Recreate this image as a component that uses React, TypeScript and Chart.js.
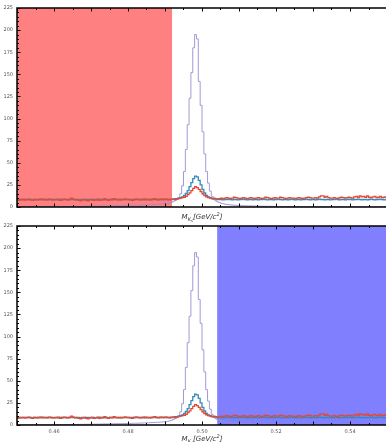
import React, { useEffect, useRef } from "react";
import { Chart, registerables } from "chart.js";

Chart.register(...registerables);

// Histogram binning (0.45 – 0.55 GeV/c², 200 bins)
const BIN_START = 0.45;
const BIN_WIDTH = 0.0005;
const X_MIN = 0.45;
const X_MAX = 0.55;
const Y_MIN = 0;
const Y_MAX = 225;
const X_TICKS = [0.46, 0.48, 0.5, 0.52, 0.54];
const Y_TICKS = [0, 25, 50, 75, 100, 125, 150, 175, 200, 225];
const X_TITLE = "M_Ks[GeV/c^2]";

const TOP_BAND = [0.45, 0.4919];
const BOTTOM_BAND = [0.5041, 0.55];

const RED_COUNTS = [
  7.5, 8.5, 8.0, 8.5, 8.0, 8.5, 8.5, 8.0, 7.5, 8.5,
  8.0, 8.5, 9.0, 8.0, 8.5, 8.0, 8.5, 9.0, 8.5, 8.0,
  8.0, 8.5, 8.0, 7.5, 8.5, 9.0, 8.5, 8.0, 8.5, 10.0,
  9.0, 8.5, 8.0, 7.5, 7.0, 8.0, 8.5, 7.5, 7.0, 8.0,
  8.5, 7.5, 8.0, 8.5, 7.5, 8.0, 8.5, 9.5, 8.0, 7.5,
  8.5, 8.0, 9.5, 8.5, 8.0, 8.5, 8.0, 8.5, 9.0, 8.5,
  8.5, 8.0, 7.5, 8.5, 9.0, 8.5, 8.0, 8.5, 9.0, 8.0,
  8.5, 8.0, 8.5, 9.0, 9.5, 8.5, 8.0, 8.5, 9.0, 8.5,
  9.0, 8.5, 8.0, 8.5, 9.0, 8.5, 9.0, 9.5, 10.0, 10.5,
  11, 12, 14, 16, 18.5, 21, 23, 22, 20, 17.5,
  15, 13, 11.5, 10.5, 10, 9.5, 10, 9.5, 9, 9.5,
  10, 9.5, 10, 10.5, 10, 9.5, 10, 11, 10.5, 10,
  9.5, 10, 10.5, 10, 9.5, 10, 10.5, 10, 9.5, 10,
  10.5, 10, 9.5, 10, 11, 10.5, 10, 9.5, 10, 10.5,
  10, 10, 11, 10.5, 10, 9.5, 10, 10.5, 10, 10,
  9.5, 10, 10.5, 10, 9.5, 10, 10.5, 11, 10.5, 10,
  10, 10.5, 10, 11.5, 12.5, 12.5, 11, 12, 10.5, 10,
  10, 10.5, 10, 9.5, 10.5, 11, 10.5, 10, 10.5, 11,
  10.5, 10, 11.5, 12, 11, 12.5, 11.5, 12, 11, 12.5,
  11, 10.5, 11.5, 12, 10.5, 11, 12, 10.5, 11, 11.5,
];

const BLUE_COUNTS = [
  8.5, 8.0, 8.5, 8.5, 8.0, 8.5, 9.0, 8.5, 8.0, 8.5,
  8.5, 8.0, 8.5, 9.0, 8.5, 8.5, 8.0, 8.5, 8.5, 8.0,
  8.5, 8.5, 9.0, 8.5, 8.0, 8.5, 8.5, 8.0, 8.5, 9.0,
  8.5, 8.0, 8.5, 8.5, 8.0, 8.5, 8.0, 8.5, 8.5, 8.0,
  8.5, 8.5, 8.0, 8.5, 9.0, 8.5, 8.0, 8.5, 8.5, 8.0,
  8.5, 8.5, 9.0, 8.5, 8.5, 8.0, 8.5, 8.5, 9.0, 8.5,
  8.5, 8.0, 8.5, 8.5, 9.0, 8.5, 8.5, 8.0, 8.5, 9.0,
  8.5, 8.5, 8.0, 8.5, 9.0, 8.5, 8.5, 9.0, 8.5, 8.5,
  9.0, 8.5, 8.5, 9.0, 9.0, 9.5, 9.5, 10.0, 10.5, 11.5,
  13, 15.5, 18.5, 23, 27.5, 32, 35, 34, 30, 25,
  20, 16, 13, 11.5, 10.5, 9.5, 9.0, 9.0, 8.5, 8.5,
  8.5, 8.0, 8.5, 8.5, 9.0, 8.5, 8.0, 8.5, 8.5, 8.0,
  8.5, 8.5, 9.0, 8.5, 8.0, 8.5, 8.5, 8.0, 8.5, 8.5,
  8.0, 8.5, 8.5, 9.0, 8.5, 8.0, 8.5, 8.5, 8.0, 8.5,
  8.5, 9.0, 8.5, 8.0, 8.5, 8.5, 8.0, 8.5, 9.0, 8.5,
  8.0, 8.5, 8.5, 8.0, 8.5, 8.5, 9.0, 8.5, 8.0, 8.5,
  8.5, 8.0, 8.5, 9.0, 8.5, 8.5, 8.0, 8.5, 8.5, 8.0,
  8.5, 8.5, 9.0, 8.5, 8.0, 8.5, 8.5, 8.0, 8.5, 9.0,
  8.5, 8.0, 8.5, 8.5, 9.0, 8.5, 8.0, 8.5, 8.5, 8.0,
  8.5, 9.0, 8.5, 8.0, 8.5, 8.5, 9.0, 8.5, 8.0, 8.5,
];

const PURPLE_COUNTS = [
  0.1, 0.1, 0.1, 0.2, 0.1, 0.2, 0.2, 0.2, 0.2, 0.3,
  0.2, 0.3, 0.3, 0.3, 0.3, 0.4, 0.3, 0.4, 0.4, 0.4,
  0.4, 0.5, 0.4, 0.5, 0.5, 0.5, 0.6, 0.5, 0.6, 0.6,
  0.6, 0.7, 0.6, 0.7, 0.7, 0.7, 0.8, 0.8, 0.8, 0.9,
  0.9, 0.9, 1.0, 1.0, 1.0, 1.1, 1.1, 1.2, 1.2, 1.2,
  1.3, 1.3, 1.4, 1.4, 1.5, 1.5, 1.6, 1.6, 1.7, 1.7,
  1.8, 1.8, 1.9, 2.0, 2.0, 2.1, 2.2, 2.2, 2.3, 2.4,
  2.5, 2.6, 2.7, 2.8, 2.9, 3.0, 3.1, 3.3, 3.4, 3.6,
  3.8, 4.1, 4.6, 5.3, 6.2, 7.3, 8.3, 10.5, 15, 24,
  40, 65, 93, 123, 152, 180, 195, 190, 142, 115,
  85, 60, 40, 27, 18, 12, 9.0, 7.0, 5.8, 4.9,
  4.2, 3.7, 3.3, 2.9, 2.6, 2.4, 2.2, 2.0, 1.9, 1.8,
  1.7, 1.6, 1.5, 1.4, 1.3, 1.3, 1.2, 1.1, 1.1, 1.0,
  1.0, 0.9, 0.9, 0.9, 0.8, 0.8, 0.8, 0.7, 0.7, 0.7,
  0.6, 0.6, 0.6, 0.6, 0.5, 0.5, 0.5, 0.5, 0.5, 0.4,
  0.4, 0.4, 0.4, 0.4, 0.4, 0.3, 0.3, 0.3, 0.3, 0.3,
  0.3, 0.3, 0.3, 0.2, 0.2, 0.2, 0.2, 0.2, 0.2, 0.2,
  0.2, 0.2, 0.2, 0.2, 0.1, 0.2, 0.1, 0.1, 0.1, 0.1,
  0.1, 0.1, 0.1, 0.1, 0.1, 0.1, 0.1, 0.1, 0.1, 0.1,
  0.1, 0.1, 0.1, 0.1, 0.1, 0.1, 0.1, 0.1, 0.1, 0.1,
];

const RED = "#E24A33";
const BLUE = "#348ABD";
const PURPLE = "rgba(152,142,213,0.9)";
const RED_BAND_COLOR = "rgb(255,128,128)";
const BLUE_BAND_COLOR = "rgb(128,128,255)";
const FONT = "DejaVu Sans";

function toSteps(counts: number[]) {
  const pts = counts.map((v, i) => ({ x: BIN_START + i * BIN_WIDTH, y: v }));
  pts.push({ x: BIN_START + counts.length * BIN_WIDTH, y: counts[counts.length - 1] });
  return pts;
}

function makeConfig(showXLabels: boolean, band: number[], bandColor: string, xAxisHeight: number): any {
  const bandPlugin = {
    id: "band",
    beforeDatasetsDraw(chart: any) {
      const { ctx, chartArea, scales } = chart;
      const x0 = Math.max(chartArea.left, scales.x.getPixelForValue(band[0]));
      const x1 = Math.min(chartArea.right, scales.x.getPixelForValue(band[1]));
      ctx.save();
      ctx.fillStyle = bandColor;
      ctx.fillRect(x0, chartArea.top, x1 - x0, chartArea.bottom - chartArea.top);
      ctx.restore();
    },
  };
  const framePlugin = {
    id: "frame",
    afterDraw(chart: any) {
      const { ctx, chartArea, scales } = chart;
      const { left, right, top, bottom } = chartArea;
      ctx.save();
      ctx.strokeStyle = "#000";
      ctx.lineWidth = 1;
      for (let v = Y_MIN; v <= Y_MAX + 1e-9; v += 5) {
        const y = Math.round(scales.y.getPixelForValue(v)) + 0.5;
        const len = v % 25 === 0 ? 3.5 : 2;
        ctx.beginPath();
        ctx.moveTo(left, y);
        ctx.lineTo(left + len, y);
        ctx.stroke();
      }
      for (let k = 0; k <= 20; k++) {
        const v = X_MIN + k * 0.005;
        const x = Math.round(scales.x.getPixelForValue(v)) + 0.5;
        const major = k % 2 === 0;
        const len = major ? 3.5 : 2;
        ctx.beginPath();
        ctx.moveTo(x, bottom);
        ctx.lineTo(x, bottom - len);
        ctx.moveTo(x, top);
        ctx.lineTo(x, top + len);
        ctx.stroke();
      }
      ctx.lineWidth = 1.5;
      ctx.beginPath();
      ctx.moveTo(right + 5, top);
      ctx.lineTo(left, top);
      ctx.lineTo(left, bottom);
      ctx.lineTo(right + 5, bottom);
      ctx.stroke();
      ctx.restore();
    },
  };

  return {
    type: "line",
    data: {
      datasets: [
        { label: "red", data: toSteps(RED_COUNTS), borderColor: RED, borderWidth: 1.3, stepped: "before", pointRadius: 0, fill: false },
        { label: "blue", data: toSteps(BLUE_COUNTS), borderColor: BLUE, borderWidth: 1.3, stepped: "before", pointRadius: 0, fill: false },
        { label: "purple", data: toSteps(PURPLE_COUNTS), borderColor: PURPLE, borderWidth: 1, stepped: "before", pointRadius: 0, fill: false },
      ],
    },
    options: {
      responsive: false,
      animation: false,
      devicePixelRatio: 1,
      events: [],
      layout: { padding: { left: 0, right: 3, top: 8, bottom: 0 } },
      plugins: { legend: { display: false }, tooltip: { enabled: false } },
      scales: {
        x: {
          type: "linear",
          min: X_MIN,
          max: X_MAX,
          grid: { display: false, drawTicks: false },
          border: { display: false },
          afterBuildTicks: (s: any) => { s.ticks = X_TICKS.map((v) => ({ value: v })); },
          afterFit: (s: any) => { s.height = xAxisHeight; },
          ticks: {
            display: showXLabels,
            padding: 4,
            maxRotation: 0,
            autoSkip: false,
            color: "#555",
            font: { family: FONT, size: 5 },
            callback: (v: any) => Number(v).toFixed(2),
          },
        },
        y: {
          type: "linear",
          min: Y_MIN,
          max: Y_MAX,
          grid: { display: false, drawTicks: false },
          border: { display: false },
          afterBuildTicks: (s: any) => { s.ticks = Y_TICKS.map((v) => ({ value: v })); },
          afterFit: (s: any) => { s.width = 17; },
          ticks: {
            padding: 4,
            color: "#555",
            font: { family: FONT, size: 5 },
            callback: (v: any) => String(v),
          },
        },
      },
    },
    plugins: [bandPlugin, framePlugin],
  };
}

const titleStyle: React.CSSProperties = {
  position: "absolute",
  left: 17,
  width: 370,
  textAlign: "center",
  fontFamily: FONT,
  fontSize: 7,
  fontStyle: "italic",
  color: "#333",
  lineHeight: "10px",
  whiteSpace: "nowrap",
};

function AxisTitle({ top }: { top: number }) {
  return (
    <div style={{ ...titleStyle, top }} aria-label={X_TITLE}>
      M<span style={{ fontSize: 5, verticalAlign: "-1.5px" }}>K<span style={{ fontSize: 4, verticalAlign: "-1px" }}>s</span></span>[GeV/c<span style={{ fontSize: 5, verticalAlign: "3px" }}>2</span>]
    </div>
  );
}

export default function App() {
  const topRef = useRef<HTMLCanvasElement>(null);
  const botRef = useRef<HTMLCanvasElement>(null);
  useEffect(() => {
    document.body.style.margin = "0";
    const c1 = new Chart(topRef.current as HTMLCanvasElement, makeConfig(false, TOP_BAND, RED_BAND_COLOR, 11));
    const c2 = new Chart(botRef.current as HTMLCanvasElement, makeConfig(true, BOTTOM_BAND, BLUE_BAND_COLOR, 17));
    return () => {
      c1.destroy();
      c2.destroy();
    };
  }, []);
  return (
    <div style={{ position: "relative", width: 386, height: 442, overflow: "hidden", background: "#fff" }}>
      <canvas ref={topRef} width={390} height={218} style={{ position: "absolute", left: 0, top: 0 }} />
      <AxisTitle top={209} />
      <canvas ref={botRef} width={390} height={224} style={{ position: "absolute", left: 0, top: 218 }} />
      <AxisTitle top={431} />
    </div>
  );
}
